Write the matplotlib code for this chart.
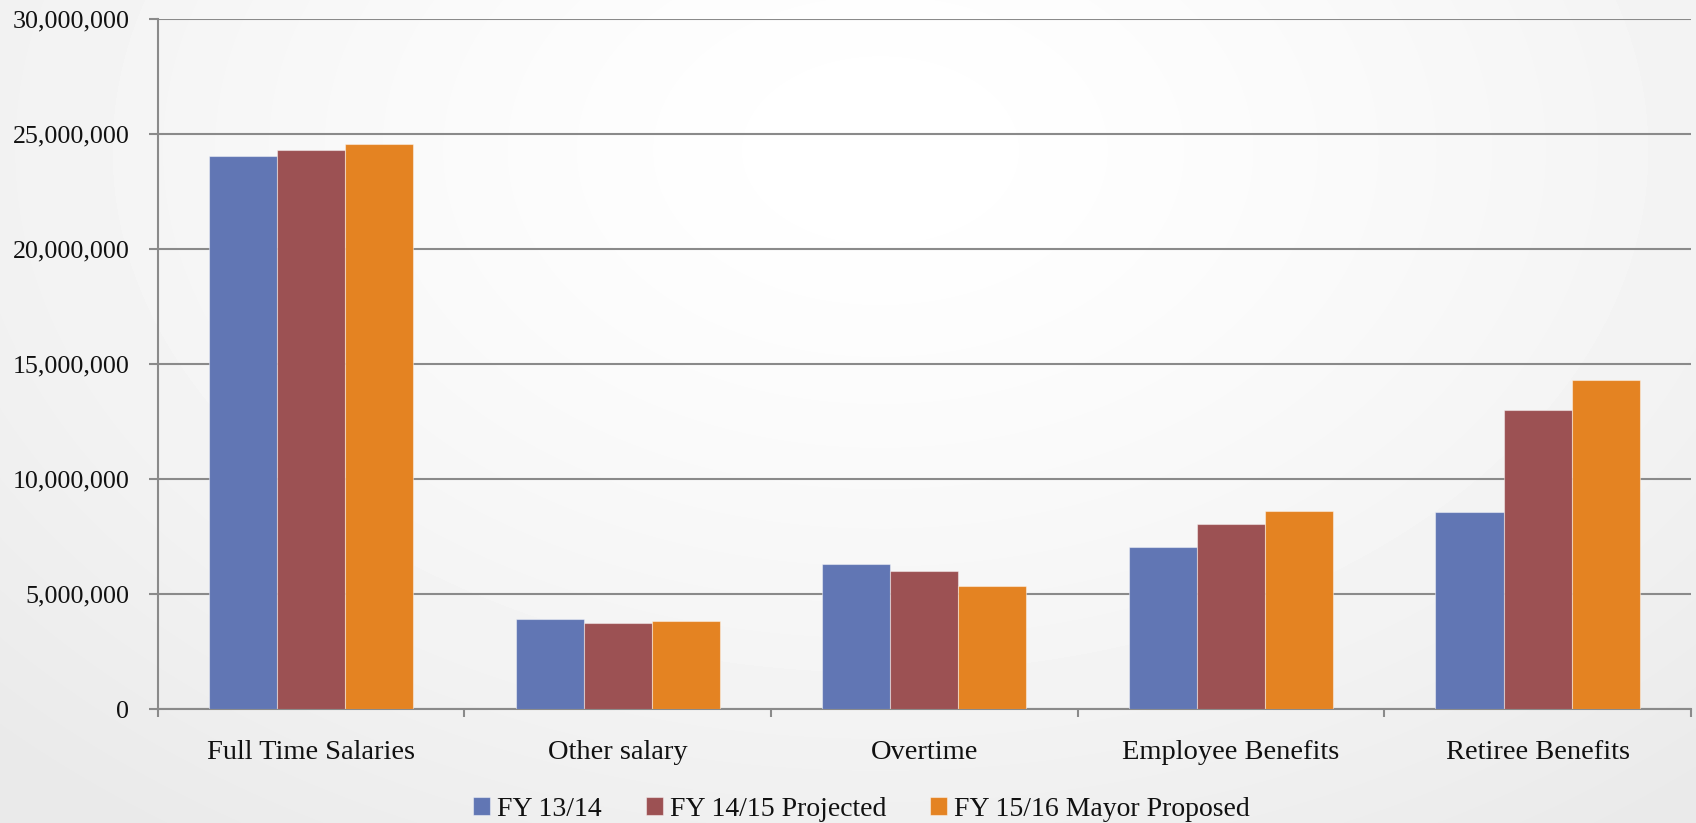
import numpy as np
import matplotlib
matplotlib.use('Agg')
import matplotlib.pyplot as plt
from matplotlib.ticker import FuncFormatter, FixedLocator

categories = ['Full Time Salaries', 'Other salary', 'Overtime', 'Employee Benefits', 'Retiree Benefits']
series_names = ['FY 13/14', 'FY 14/15 Projected', 'FY 15/16 Mayor Proposed']
fy1314 = [24030000, 3910000, 6300000, 7040000, 8560000]
fy1415 = [24320000, 3770000, 6010000, 8060000, 13000000]
fy1516 = [24570000, 3830000, 5370000, 8630000, 14320000]
yticks = [0, 5000000, 10000000, 15000000, 20000000, 25000000, 30000000]

colors = ['#6176B4', '#9C5153', '#E48322']

plt.rcParams['font.family'] = ['Liberation Serif', 'DejaVu Serif']
fs = 18.7

fig = plt.figure(figsize=(16.96, 8.23), dpi=100)

# soft radial background like the slide
bg = fig.add_axes([0, 0, 1, 1], zorder=-10)
yy, xx = np.mgrid[0:823, 0:1696]
r = np.sqrt(((xx - 880) / 1250.0) ** 2 + ((yy - 150) / 850.0) ** 2)
shade = 1.0 - 0.085 * np.clip(r, 0, 1) ** 1.4
bg.imshow(shade, cmap='gray', vmin=0, vmax=1, aspect='auto', interpolation='bilinear')
bg.axis('off')

ax = fig.add_axes([0.093, 0.138, 0.904, 0.839])
ax.patch.set_alpha(0)

x = np.arange(len(categories))
w = 0.222
for i, (vals, name) in enumerate(zip([fy1314, fy1415, fy1516], series_names)):
    ax.bar(x + (i - 1) * w, vals, width=w, color=colors[i], label=name,
           edgecolor=(1, 1, 1, 0.45), linewidth=0.8, zorder=3)

ax.set_xlim(-0.5, 4.5)
ax.set_ylim(0, 30000000)
ax.set_yticks(yticks)
ax.yaxis.set_major_formatter(FuncFormatter(lambda v, p: '{:,.0f}'.format(v)))
ax.grid(axis='y', color='#8a8a8a', linewidth=1.5, zorder=0)
ax.set_axisbelow(True)

for s in ['top', 'right']:
    ax.spines[s].set_visible(False)
for s in ['left', 'bottom']:
    ax.spines[s].set_color('#8a8a8a')
    ax.spines[s].set_linewidth(1.5)

ax.tick_params(axis='y', length=6.5, width=1.5, color='#8a8a8a', pad=14, labelsize=fs, labelcolor='#111111')
ax.set_xticks(x)
ax.set_xticklabels(categories)
ax.tick_params(axis='x', which='major', length=0, pad=22, labelsize=20.5, labelcolor='#111111')
ax.xaxis.set_minor_locator(FixedLocator(np.arange(-0.5, 5.0, 1.0)))
ax.tick_params(axis='x', which='minor', length=6, width=1.5, color='#8a8a8a')

leg = fig.legend(loc='center', bbox_to_anchor=(0.508, 0.017), ncol=3, frameon=False,
                 fontsize=20, handlelength=0.6, handleheight=0.6, handletextpad=0.25,
                 columnspacing=1.6, borderaxespad=0)
for t in leg.get_texts():
    t.set_color('#111111')

fig.savefig('out.png', dpi=100)
